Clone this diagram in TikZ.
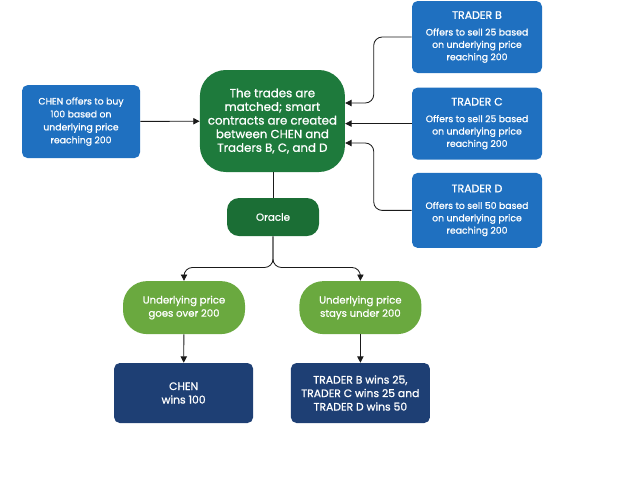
\documentclass[tikz,border=0pt]{standalone}
\usepackage{fontspec}
\setmainfont[FakeBold=0.9]{Poppins}
\usepackage{tikz}
\usetikzlibrary{arrows.meta, positioning, calc}
\definecolor{tradeblue}{HTML}{1F70C0}
\definecolor{hubgreen}{HTML}{1E7A3C}
\definecolor{oraclegreen}{HTML}{1B6E35}
\definecolor{pillgreen}{HTML}{6AA93F}
\definecolor{winnavy}{HTML}{1E3F74}
\definecolor{linkgray}{HTML}{1A1A1A}

\begin{document}
\begin{tikzpicture}[
    offer/.style={fill=tradeblue, rounded corners=4pt, text=white,
                  font=\fontsize{6.6}{8.8}\selectfont, align=center,
                  minimum width=3.25cm, minimum height=1.8cm, inner sep=2pt},
    hubbox/.style={fill=hubgreen, rounded corners=0.65cm, text=white,
                   font=\fontsize{8.4}{9.7}\selectfont, align=center,
                   minimum width=3.625cm, minimum height=2.55cm, inner sep=2pt},
    pill/.style={fill=pillgreen, rounded corners=0.6cm, text=white,
                 font=\fontsize{7.2}{9.4}\selectfont, align=center,
                 minimum width=3.05cm, minimum height=1.325cm, inner sep=2pt},
    result/.style={fill=winnavy, rounded corners=4pt, text=white,
                   font=\fontsize{7.7}{9.6}\selectfont, align=center,
                   minimum width=3.475cm, minimum height=1.5cm, inner sep=2pt},
    link/.style={draw=linkgray, line width=0.6pt, -{Triangle[length=4.5pt, width=4.5pt]}},
    plain/.style={draw=linkgray, line width=0.6pt}
  ]
    \useasboundingbox (0,0) rectangle (16,-12);

    % buyer and matching
    \node[offer, minimum width=2.95cm, minimum height=1.825cm,
          font=\fontsize{6.6}{9.2}\selectfont] (chen) at (2.025,-3.04)
      {CHEN offers to buy\\100 based on\\underlying price\\reaching 200};
    \node[hubbox] (hub) at (6.81,-3.025)
      {The trades are\\matched; smart\\contracts are created\\between CHEN and\\Traders B, C, and D};

    % sellers
    \node[offer] (trB) at (11.925,-0.925)
      {{\fontsize{7.8}{10}\selectfont TRADER B}\\[3pt]Offers to sell 25 based\\on underlying price\\reaching 200};
    \node[offer] (trC) at (11.925,-3.09)
      {{\fontsize{7.8}{10}\selectfont TRADER C}\\[3pt]Offers to sell 25 based\\on underlying price\\reaching 200};
    \node[offer, minimum height=1.875cm] (trD) at (11.925,-5.26)
      {{\fontsize{7.8}{10}\selectfont TRADER D}\\[3pt]Offers to sell 50 based\\on underlying price\\reaching 200};

    % oracle and outcomes
    \node[hubbox, fill=oraclegreen, rounded corners=0.3cm, font=\fontsize{7.3}{9}\selectfont,
          minimum width=2.3cm, minimum height=0.95cm] (oracle) at (6.825,-5.425) {Oracle};
    \node[pill] (over) at (4.6,-7.69) {Underlying price\\goes over 200};
    \node[pill] (under) at (9.01,-7.69) {Underlying price\\stays under 200};
    \node[result] (chenwin) at (4.59,-9.825) {CHEN\\wins 100};
    \node[result] (tradwin) at (9.01,-9.825)
      {TRADER B wins 25,\\TRADER C wins 25 and\\TRADER D wins 50};

    \coordinate (split) at ($(oracle.south)+(0,-0.78)$);

    \draw[link] (chen) -- (hub);
    \draw[link] (trC.west) -- (trC.west -| hub.east);
    \draw[link, rounded corners=6pt] (trB.west) -- ++(-0.95,0) |- ([yshift=0.45cm]hub.east);
    \draw[link, rounded corners=6pt] (trD.west) -- ++(-0.95,0) |- ([yshift=-0.55cm]hub.east);
    \draw[plain] (hub.south -| oracle.north) -- (oracle.north);
    \draw[link, rounded corners=6pt] (oracle.south) -- (split) -| (over.north);
    \draw[link, rounded corners=6pt] (oracle.south) -- (split) -| (under.north);
    \draw[link] (over) -- (chenwin);
    \draw[link] (under) -- (tradwin);
  \end{tikzpicture}
\end{document}
